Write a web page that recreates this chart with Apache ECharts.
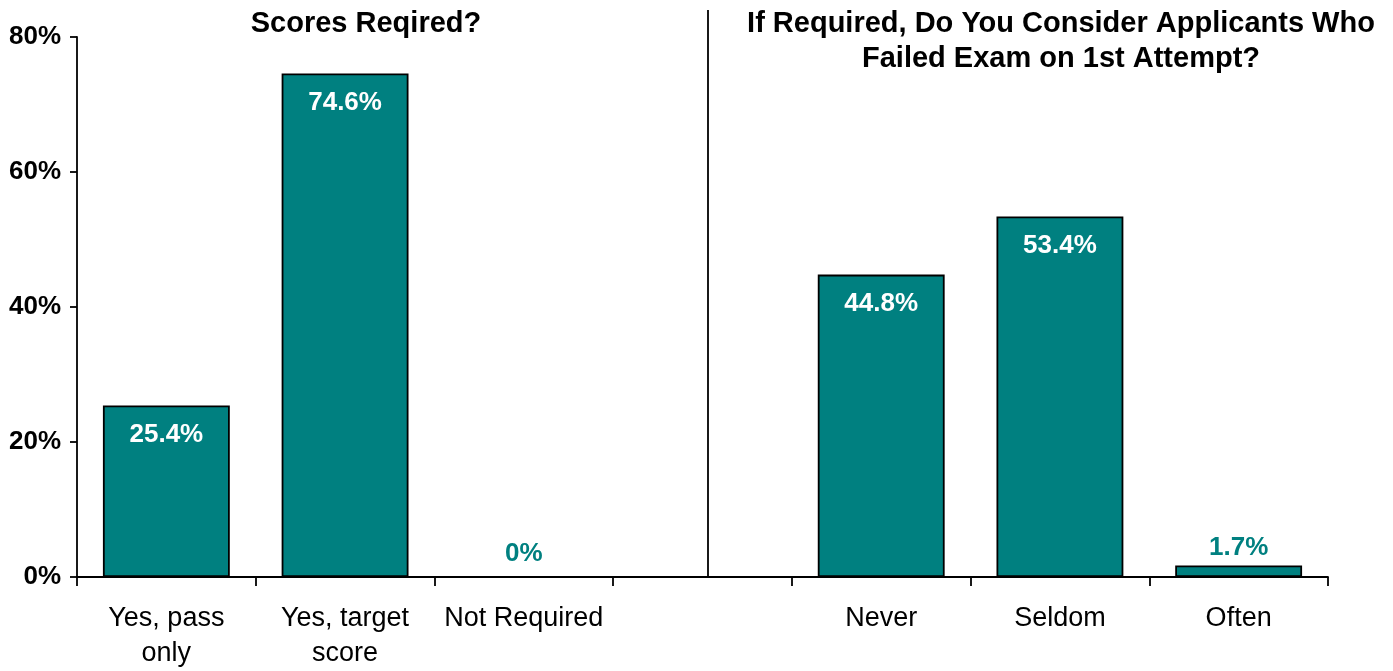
<!DOCTYPE html>
<html>
<head>
<meta charset="utf-8">
<script src="https://cdn.jsdelivr.net/npm/echarts@6/dist/echarts.min.js"></script>
<style>
html,body{margin:0;padding:0;background:#fff;}
#chart{width:1393px;height:671px;}
</style>
</head>
<body>
<div id="chart"></div>
<script>
const categories = ['Yes, pass\nonly', 'Yes, target\nscore', 'Not Required', '', 'Never', 'Seldom', 'Often'];
const values = [25.4, 74.6, 0, null, 44.8, 53.4, 1.7];
const yTicks = [0, 20, 40, 60, 80];
const title1 = 'Scores Reqired?';
const title2 = 'If Required, Do You Consider Applicants Who\nFailed Exam on 1st Attempt?';

const FONT = 'Arial, "Liberation Sans", sans-serif';
const TEAL = '#008080';

const chart = echarts.init(document.getElementById('chart'));
chart.setOption({
  animation: false,
  backgroundColor: '#fff',
  title: [
    { text: title1, left: 361, top: 1, textAlign: 'center',
      textStyle: { fontFamily: FONT, fontSize: 29, fontWeight: 'bold', color: '#000', lineHeight: 35 } },
    { text: title2, left: 1056, top: 1, textAlign: 'center',
      textStyle: { fontFamily: FONT, fontSize: 29, fontWeight: 'bold', color: '#000', lineHeight: 35 } }
  ],
  grid: { left: 77, right: 65, top: 37, bottom: 93, containLabel: false },
  xAxis: {
    type: 'category',
    data: categories,
    boundaryGap: true,
    axisLine: { lineStyle: { color: '#000', width: 1.8 } },
    axisTick: { show: true, length: 9, alignWithLabel: false, interval: 0, lineStyle: { color: '#000', width: 1.8 } },
    axisLabel: { interval: 0, margin: 24, fontFamily: FONT, fontSize: 27, color: '#000', lineHeight: 35 }
  },
  yAxis: {
    type: 'value',
    min: 0, max: 80, interval: 20,
    splitLine: { show: false },
    axisLine: { show: true, lineStyle: { color: '#000', width: 1.8 } },
    axisTick: { show: true, length: 7, lineStyle: { color: '#000', width: 1.8 } },
    axisLabel: {
      margin: 16, fontFamily: FONT, fontSize: 26, fontWeight: 'bold', color: '#000',
      formatter: v => yTicks.includes(v) ? v + '%' : ''
    }
  },
  series: [{
    type: 'bar',
    data: values.map(v => {
      if (v === null) return null;
      if (v === 0) {
        return { value: v, itemStyle: { borderWidth: 0 },
                 label: { position: 'top', distance: 10, color: TEAL } };
      }
      if (v < 5) {
        return { value: v, label: { position: 'top', distance: 5, color: TEAL } };
      }
      return { value: v, label: { position: 'insideTop', distance: 16, color: '#fff' } };
    }),
    barWidth: '71%',
    itemStyle: { color: TEAL, borderColor: '#000', borderWidth: 1.8 },
    label: {
      show: true,
      fontFamily: FONT, fontSize: 26, fontWeight: 'bold',
      formatter: p => p.value + '%'
    }
  }],
  graphic: [{
    type: 'line',
    shape: { x1: 708, y1: 10, x2: 708, y2: 578 },
    style: { stroke: '#000', lineWidth: 1.8 }
  }]
});
</script>
</body>
</html>
